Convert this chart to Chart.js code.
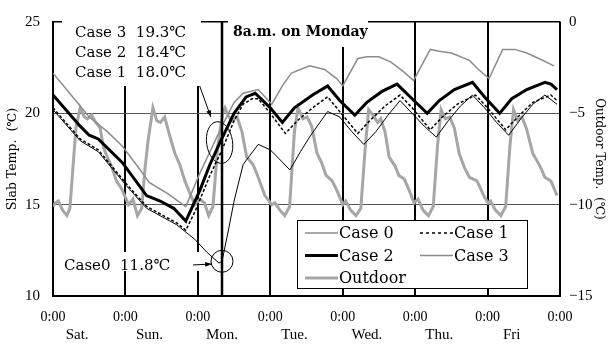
<!DOCTYPE html>
<html>
<head>
<meta charset="utf-8">
<script src="https://cdn.jsdelivr.net/npm/chart.js@4.4.1/dist/chart.umd.min.js"></script>
<style>
body { margin: 0; background: #fff; }
</style>
</head>
<body>
<canvas id="grafica" width="609" height="345"></canvas>
<script>
// hours since Sat 0:00 -> temperature
const case0 = [[0,20.2],[9,18.5],[15,17.9],[24,16.1],[31,14.8],[41,13.9],[44,13.5],[47,13.1],[51,12.4],[55,11.8],[56,11.9],[58,13.5],[60,15.2],[63,17.2],[68,18.3],[72,18.0],[75,17.5],[78.5,16.9],[82,17.9],[85,18.7],[91,20.1],[95,19.8],[99,19.0],[103,18.3],[107,19.0],[111,19.9],[115,20.7],[119,20.0],[123,19.3],[127,18.7],[131,19.6],[135,20.4],[139,21.0],[143,20.3],[147,19.5],[151,18.8],[155,19.7],[159,20.5],[163,21.0],[167,20.5]];
const case1 = [[0,20.3],[9,18.6],[15,18.0],[24,16.2],[31,14.9],[41,14.0],[44,13.6],[47,14.6],[52,16.6],[56,18.0],[60,19.6],[63,20.5],[66,20.8],[68,20.8],[72,20.0],[77,18.9],[81,19.6],[86,20.3],[91,20.9],[95,20.1],[101,18.9],[105,19.6],[110,20.4],[115,21.0],[119,20.3],[125,19.1],[129,19.8],[134,20.5],[140,21.0],[144,20.3],[150,19.1],[154,19.8],[159,20.6],[165,21.0],[167,20.7]];
const case2 = [[0,21.0],[9,19.3],[12,18.8],[15,18.6],[23,17.3],[31,15.5],[35.5,15.2],[40,14.8],[44,14.1],[48.7,15.8],[52,17.2],[55.3,18.4],[60,20.0],[64,20.9],[67,21.1],[72,20.3],[76,19.5],[80,20.3],[86,21.0],[91,21.5],[95,20.7],[100,19.9],[104,20.6],[109,21.2],[114,21.6],[119,20.8],[124,20.0],[128,20.7],[133,21.3],[139,21.7],[143,20.9],[148,20.0],[152,20.8],[157,21.3],[163,21.7],[165,21.6],[167,21.3]];
const case3 = [[0,22.2],[6,21.0],[12,19.8],[18,19.0],[23,18.2],[28,17.1],[32,16.2],[38,15.6],[44,14.9],[48.6,16.7],[52,17.9],[56,19.3],[60,20.6],[63,21.1],[68,21.3],[72.5,20.5],[76,21.5],[79,22.2],[85,22.6],[90,22.4],[94,21.9],[96,21.5],[101,23.0],[104,23.1],[108,23.1],[112,22.8],[116,22.3],[119.5,21.8],[125,23.5],[128,23.4],[132,23.3],[138,22.9],[141,22.4],[144.5,21.9],[149,23.5],[153,23.5],[157,23.3],[161,23.0],[166,22.6]];
const outdoor = [[0,-10.1],[0.8,-9.9],[1.8,-9.8],[3.2,-10.3],[4.6,-10.6],[5.6,-10.2],[6.6,-8.0],[7.6,-5.8],[9.0,-4.7],[10.4,-5.2],[11.4,-5.3],[12.8,-5.1],[14.2,-5.5],[15.6,-5.8],[16.8,-6.9],[18.0,-7.4],[19.4,-7.9],[21.0,-8.7],[22.6,-9.1],
  [24.0,-9.6],[25.0,-10.0],[26.5,-9.7],[28.0,-10.6],[29.4,-10.2],[30.5,-8.0],[31.5,-6.5],[33.1,-4.7],[34.4,-5.4],[35.6,-5.5],[37.0,-5.2],[38.8,-6.3],[40.4,-7.2],[42.0,-7.8],[43.7,-8.7],[45.4,-9.4],[47.0,-10.0],
  [48.7,-9.7],[50.2,-9.9],[51.6,-10.6],[53.0,-10.1],[54.6,-6.8],[56.2,-5.0],[57.0,-4.7],[58.3,-5.2],[59.3,-5.4],[61.0,-5.2],[62.6,-6.0],[64.2,-7.4],[66.3,-7.8],[68.0,-8.5],[70.2,-9.5],[72.5,-10.0],
  [73.5,-9.9],[75.2,-10.3],[76.8,-10.6],[78.4,-10.1],[80.0,-6.0],[81.2,-4.7],[82.8,-5.3],[84.2,-5.2],[85.7,-5.7],[87.5,-7.2],[89.0,-7.7],[90.5,-8.4],[92.5,-8.7],[94.3,-9.3],[96.0,-10.0],
  [97.0,-9.8],[98.6,-10.3],[100.4,-10.6],[102.0,-10.2],[103.4,-7.0],[104.6,-4.8],[106.0,-5.1],[107.6,-5.5],[108.6,-5.3],[110.0,-6.0],[111.4,-7.4],[113.4,-7.9],[114.6,-8.4],[116.4,-8.6],[118.0,-9.2],[119.6,-9.9],
  [121.0,-9.7],[122.6,-10.3],[124.4,-10.6],[126.0,-10.1],[127.4,-6.8],[128.6,-4.8],[130.0,-5.3],[131.4,-5.2],[133.0,-5.8],[134.6,-7.2],[136.4,-8.0],[138.0,-8.5],[140.5,-8.7],[143.0,-9.6],[144.2,-9.9],
  [145.0,-9.8],[146.6,-10.3],[148.4,-10.6],[150.0,-10.1],[151.4,-6.8],[152.6,-4.8],[154.0,-5.4],[155.4,-5.2],[157.0,-5.9],[159.0,-7.2],[161.4,-7.9],[163.0,-8.5],[165.0,-8.7],[167.0,-9.5]];
const mondayLine = [[56,10],[56,25]];

const hourTicks = [0, 24, 48, 72, 96, 120, 144, 168];
const dayTicks = [8, 32, 56, 80, 104, 128, 152];
const dayNames = ['Sat.', 'Sun.', 'Mon.', 'Tue.', 'Wed.', 'Thu.', 'Fri'];
const slabTicks = [10, 15, 20, 25];
const outdoorTicks = [-15, -10, -5, 0];
const notesMonday = ['Case 3  19.3\u2103', 'Case 2  18.4\u2103', 'Case 1  18.0\u2103'];
const noteCase0 = 'Case0  11.8\u2103';
const noteTitle = '8a.m. on Monday';

const FONT = "'Liberation Serif', 'DejaVu Serif', serif";
const FONT2 = "'DejaVu Serif', 'Liberation Serif', serif";
Chart.defaults.font.family = FONT;
Chart.defaults.color = '#000';

const pts = arr => arr.map(p => ({x: p[0], y: p[1]}));

// legend entries: [label, color, width, dash]
const legendItems = [
    ['Case 0', '#555', 1.2, []],
    ['Case 1', '#000', 1.5, [3, 3]],
    ['Case 2', '#000', 3, []],
    ['Case 3', '#8c8c8c', 1.5, []],
    ['Outdoor', '#a6a6a6', 3, []]
];

const notas = {
    id: 'notas',
    beforeDatasetsDraw(chart) {
        const ctx = chart.ctx;
        ctx.save();
        ctx.fillStyle = '#fff';
        ctx.fillRect(62, 19, 139, 67);   // Case 3/2/1 block
        ctx.fillRect(228, 15, 140, 32);  // 8a.m. on Monday
        ctx.fillRect(60, 252, 141, 19);  // Case0
        ctx.restore();
    },
    afterDatasetsDraw(chart) {
        const {ctx, scales: {x, y}} = chart;
        ctx.save();
        ctx.fillStyle = '#000';
        ctx.textBaseline = 'middle';
        ctx.font = '15px ' + FONT2;
        notesMonday.forEach((t, i) => ctx.fillText(t, 75, 33 + i * 20));
        ctx.fillText(noteCase0, 64, 266);
        ctx.font = 'bold 14px ' + FONT2;
        ctx.fillText(noteTitle, 233, 32);

        // ellipse around the 8am values
        ctx.strokeStyle = '#000';
        ctx.lineWidth = 1;
        ctx.beginPath();
        ctx.ellipse(x.getPixelForValue(55.2), y.getPixelForValue(18.4), 13, 21, -0.15, 0, Math.PI * 2);
        ctx.stroke();
        // circle around Case0 minimum
        ctx.beginPath();
        ctx.arc(x.getPixelForValue(56), y.getPixelForValue(11.9), 11, 0, Math.PI * 2);
        ctx.stroke();

        const arrow = (x0, y0, x1, y1) => {
            ctx.beginPath();
            ctx.moveTo(x0, y0);
            ctx.lineTo(x1, y1);
            ctx.stroke();
            const a = Math.atan2(y1 - y0, x1 - x0);
            ctx.beginPath();
            ctx.moveTo(x1, y1);
            ctx.lineTo(x1 - 7 * Math.cos(a - 0.35), y1 - 7 * Math.sin(a - 0.35));
            ctx.lineTo(x1 - 7 * Math.cos(a + 0.35), y1 - 7 * Math.sin(a + 0.35));
            ctx.closePath();
            ctx.fill();
        };
        arrow(x.getPixelForValue(48.6), y.getPixelForValue(21.5), x.getPixelForValue(52.3), y.getPixelForValue(19.8));
        arrow(x.getPixelForValue(46.4), y.getPixelForValue(11.7), x.getPixelForValue(52.6), y.getPixelForValue(11.75));

        // legend box
        ctx.fillStyle = '#fff';
        ctx.fillRect(297, 220, 230, 68);
        ctx.strokeStyle = '#000';
        ctx.lineWidth = 1;
        ctx.strokeRect(297.5, 220.5, 230, 68);
        ctx.font = '16px ' + FONT2;
        legendItems.forEach((it, i) => {
            const col = i === 4 ? 0 : i % 2;
            const row = Math.floor(i / 2);
            const lx = col === 0 ? 305 : 420;
            const ly = 233 + row * 22.5;
            ctx.strokeStyle = it[1];
            ctx.lineWidth = it[2];
            ctx.setLineDash(it[3]);
            ctx.beginPath();
            ctx.moveTo(lx, ly);
            ctx.lineTo(lx + 33, ly);
            ctx.stroke();
            ctx.setLineDash([]);
            ctx.fillStyle = '#000';
            ctx.fillText(it[0], lx + 34, ly + 1);
        });
        ctx.restore();
    }
};

const ctx = document.getElementById('grafica').getContext('2d');
new Chart(ctx, {
    type: 'line',
    data: {
        datasets: [
            { label: 'Case 0', data: pts(case0), borderColor: '#000', borderWidth: 1, order: 2 },
            { label: 'Case 1', data: pts(case1), borderColor: '#000', borderWidth: 1.5, borderDash: [3, 2], order: 3 },
            { label: 'Case 2', data: pts(case2), borderColor: '#000', borderWidth: 3, order: 1 },
            { label: 'Case 3', data: pts(case3), borderColor: '#8c8c8c', borderWidth: 1.5, order: 4 },
            { label: 'Outdoor', data: pts(outdoor), borderColor: '#a6a6a6', borderWidth: 3, yAxisID: 'y2', order: 5 },
            { label: '8am', data: pts(mondayLine), borderColor: '#000', borderWidth: 2.5, order: 0 }
        ]
    },
    options: {
        responsive: false,
        animation: false,
        devicePixelRatio: 1,
        elements: { point: { radius: 0 }, line: { tension: 0, fill: false } },
        layout: { padding: { top: 14, left: 0, right: 0, bottom: 0 } },
        plugins: { legend: { display: false }, tooltip: { enabled: false } },
        scales: {
            x: {
                type: 'linear', position: 'bottom', min: 0, max: 168, weight: 0,
                afterBuildTicks: axis => { axis.ticks = hourTicks.map(v => ({value: v})); },
                afterFit: s => { s.height = 26; },
                grid: { color: '#000', lineWidth: 2, drawTicks: false },
                border: { color: '#000', width: 2 },
                ticks: { padding: 13, maxRotation: 0, autoSkip: false, font: { size: 14 }, callback: () => '0:00' }
            },
            xDays: {
                type: 'linear', position: 'bottom', min: 0, max: 168, weight: 1,
                afterBuildTicks: axis => { axis.ticks = dayTicks.map(v => ({value: v})); },
                afterFit: s => { s.height = 23; },
                grid: { display: false, drawTicks: false },
                border: { display: false },
                ticks: { padding: 4, maxRotation: 0, autoSkip: false, font: { size: 15 }, callback: v => dayNames[dayTicks.indexOf(v)] }
            },
            y: {
                position: 'left', min: 10, max: 25,
                afterBuildTicks: axis => { axis.ticks = slabTicks.map(v => ({value: v})); },
                afterFit: s => { s.width = 53; },
                grid: {
                    drawTicks: false,
                    color: c => (c.tick && (c.tick.value === 15 || c.tick.value === 20)) ? '#555' : '#000',
                    lineWidth: c => (c.tick && c.tick.value === 25) ? 1.5 : 1
                },
                border: { color: '#000', width: 2 },
                ticks: { padding: 13, font: { size: 15 } },
                title: { display: true, text: 'Slab Temp.  (\u2103)', font: { size: 12.5, family: FONT2 }, padding: { top: 5, bottom: 3 } }
            },
            y2: {
                position: 'right', min: -15, max: 0,
                afterBuildTicks: axis => { axis.ticks = outdoorTicks.map(v => ({value: v})); },
                afterFit: s => { s.width = 49; },
                grid: { display: false, drawTicks: false },
                border: { color: '#000', width: 1.5 },
                ticks: { padding: 9, font: { size: 15 }, callback: v => String(v).replace('-', '\u2212') },
                title: { display: true, text: 'Outdoor Temp.  (\u2103)', font: { size: 12, family: FONT2 }, padding: { top: 3, bottom: 3 } }
            }
        }
    },
    plugins: [notas]
});
</script>
</body>
</html>
